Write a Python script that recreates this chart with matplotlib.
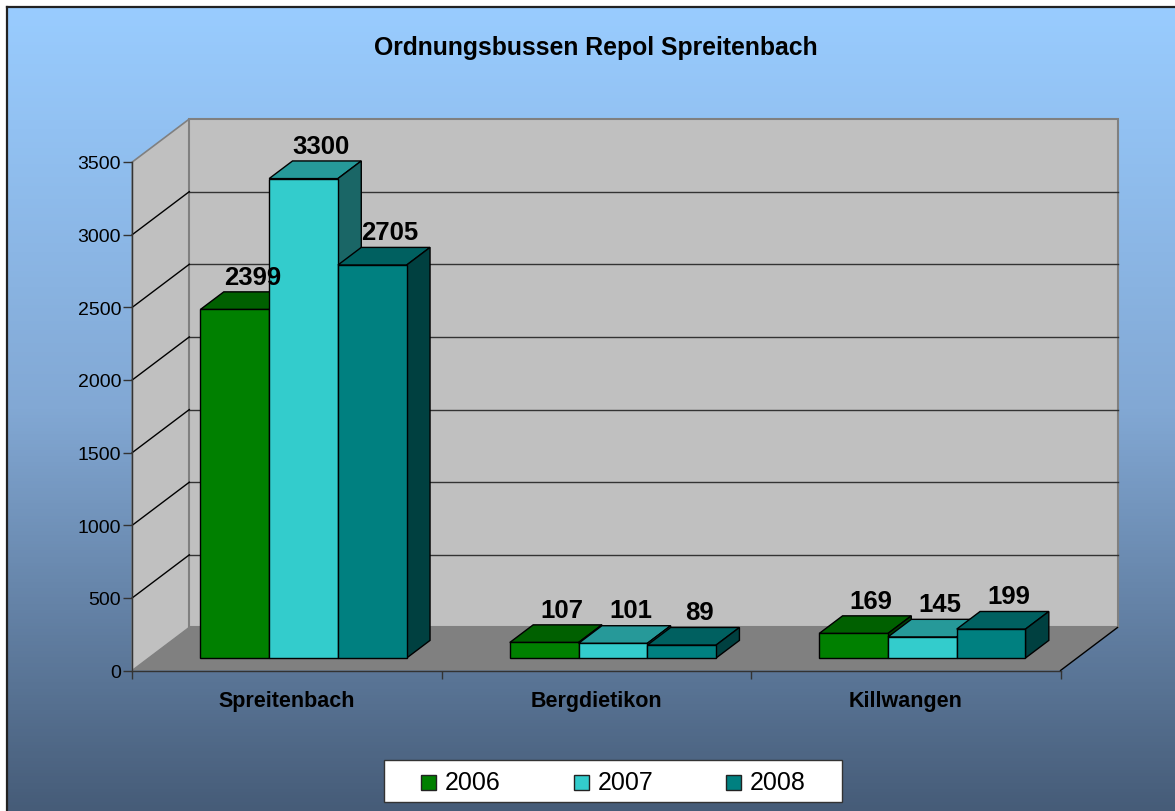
import matplotlib.pyplot as plt
import numpy as np
from matplotlib.patches import Polygon, Rectangle
from matplotlib.lines import Line2D
from matplotlib.colors import LinearSegmentedColormap

plt.rcParams['font.family'] = ['Liberation Sans', 'DejaVu Sans']

# data
title = "Ordnungsbussen Repol Spreitenbach"
categories = ["Spreitenbach", "Bergdietikon", "Killwangen"]
years = ["2006", "2007", "2008"]
fines_2006 = [2399, 107, 169]
fines_2007 = [3300, 101, 145]
fines_2008 = [2705, 89, 199]
y_ticks = [0, 500, 1000, 1500, 2000, 2500, 3000, 3500]

front_colors = ["#008000", "#33CCCC", "#008080"]
top_colors = ["#006000", "#269999", "#006060"]
side_colors = ["#004000", "#1A6666", "#004040"]

W, H = 1175, 812
# oblique 3d look: depth offset expressed in axis units
DEPTH_X = 57 / 309.4
DEPTH_Y = 43 * 500 / 72.64
BAR_W = 2 / 9
D0, D1 = 0.29, 0.70
Y_MAX = y_ticks[-1]


def proj(x, v, d):
	return (x + d * DEPTH_X, v + d * DEPTH_Y)


fig = plt.figure(figsize=(W / 100, H / 100), dpi=100)
fig.patch.set_facecolor("white")

# gradient background of the chart area
bg = fig.add_axes([7 / W, 0, 1 - 7 / W, 1 - 8 / H], zorder=0)
grad = np.linspace(0, 1, 256)[:, None]
cmap = LinearSegmentedColormap.from_list("bg", ["#99CCFF", "#82A8D4", "#465C78"])
bg.imshow(grad, aspect="auto", cmap=cmap, extent=[0, 1, 0, 1], origin="upper")
bg.axis("off")
fig.add_artist(Line2D([7 / W, 1], [1 - 8 / H, 1 - 8 / H], transform=fig.transFigure, color="#222222", lw=1.6))
fig.add_artist(Line2D([7 / W, 7 / W], [0, 1 - 8 / H], transform=fig.transFigure, color="#222222", lw=1.6))

ax = fig.add_axes([132.3 / W, 140.5 / H, 928.2 / W, 508.5 / H], zorder=1)
ax.patch.set_alpha(0)
ax.set_xlim(0, 3)
ax.set_ylim(0, Y_MAX)
n_cat = len(categories)

# walls and floor
side_wall = [proj(0, 0, 0), proj(0, Y_MAX, 0), proj(0, Y_MAX, 1), proj(0, 0, 1)]
back_wall = [proj(0, 0, 1), proj(n_cat, 0, 1), proj(n_cat, Y_MAX, 1), proj(0, Y_MAX, 1)]
floor = [proj(0, 0, 0), proj(n_cat, 0, 0), proj(n_cat, 0, 1), proj(0, 0, 1)]
ax.add_patch(Polygon(side_wall, closed=True, fc="#C0C0C0", ec="#808080", lw=1.2, clip_on=False, zorder=1))
ax.add_patch(Polygon(back_wall, closed=True, fc="#C0C0C0", ec="#808080", lw=1.5, clip_on=False, zorder=1))
ax.add_patch(Polygon(floor, closed=True, fc="#808080", ec="none", clip_on=False, zorder=2))
fx, fy = zip(proj(n_cat, 0, 0), proj(n_cat, 0, 1))
ax.plot(fx, fy, color="black", lw=1, clip_on=False, zorder=2)

for v in y_ticks[1:-1]:
	bx, by = zip(proj(0, v, 1), proj(n_cat, v, 1))
	ax.plot(bx, by, color="#333333", lw=1, clip_on=False, zorder=1.5)
	sx, sy = zip(proj(0, v, 0), proj(0, v, 1))
	ax.plot(sx, sy, color="black", lw=1, clip_on=False, zorder=1.5)

# bars
series = [fines_2006, fines_2007, fines_2008]
labels = []
for i in range(n_cat):
	for j, vals in enumerate(series):
		v = vals[i]
		x0 = i + (1 - len(series) * BAR_W) / 2 + j * BAR_W
		x1 = x0 + BAR_W
		z = 3 + i * 3 + j
		top = [proj(x0, v, D0), proj(x1, v, D0), proj(x1, v, D1), proj(x0, v, D1)]
		side = [proj(x1, 0, D0), proj(x1, 0, D1), proj(x1, v, D1), proj(x1, v, D0)]
		front = [proj(x0, 0, D0), proj(x1, 0, D0), proj(x1, v, D0), proj(x0, v, D0)]
		ax.add_patch(Polygon(top, closed=True, fc=top_colors[j], ec="black", lw=1, clip_on=False, zorder=z))
		ax.add_patch(Polygon(side, closed=True, fc=side_colors[j], ec="black", lw=1, clip_on=False, zorder=z))
		ax.add_patch(Polygon(front, closed=True, fc=front_colors[j], ec="black", lw=1, clip_on=False, zorder=z))
		lx = proj((x0 + x1) / 2, v, 0.5)[0]
		ly = proj(x0, v, D1)[1]
		labels.append((str(v), lx, ly))

for txt, lx, ly in labels:
	ax.annotate(txt, xy=(lx, ly), xytext=(4, 6), textcoords="offset points",
		ha="center", va="baseline", fontsize=18.5, fontweight="bold", zorder=20,
		annotation_clip=False)

# axes
for s in ["top", "right"]:
	ax.spines[s].set_visible(False)
for s in ["left", "bottom"]:
	ax.spines[s].set_color("#333333")
	ax.spines[s].set_linewidth(1)
	ax.spines[s].set_zorder(15)
ax.set_yticks(y_ticks)
ax.tick_params(axis="y", length=6.5, width=1, color="#333333", labelsize=14, pad=1.5)
ax.set_xticks(np.arange(n_cat + 1))
ax.set_xticklabels([])
ax.tick_params(axis="x", which="major", length=6, width=1, color="#333333")
ax.set_xticks(np.arange(n_cat) + 0.5, minor=True)
ax.set_xticklabels(categories, minor=True, fontsize=15.5, fontweight="bold")
ax.tick_params(axis="x", which="minor", length=0, pad=14)

fig.text(595.5 / W, 1 - 55 / H, title, ha="center", va="baseline", fontsize=17.8, fontweight="bold")

# legend box
fig.add_artist(Rectangle((384 / W, 1 - 803 / H), 458 / W, 42 / H, transform=fig.transFigure,
	fc="white", ec="#333333", lw=1))
for j, year in enumerate(years):
	sx = (421 + j * 152.5) / W
	fig.add_artist(Rectangle((sx, 1 - 791 / H), 15 / W, 15 / H, transform=fig.transFigure,
		fc=front_colors[j], ec="#222222", lw=1))
	fig.text(sx + 24 / W, 1 - 790 / H, year, ha="left", va="baseline", fontsize=18)

fig.savefig("out.png", dpi=100, facecolor=fig.get_facecolor())
